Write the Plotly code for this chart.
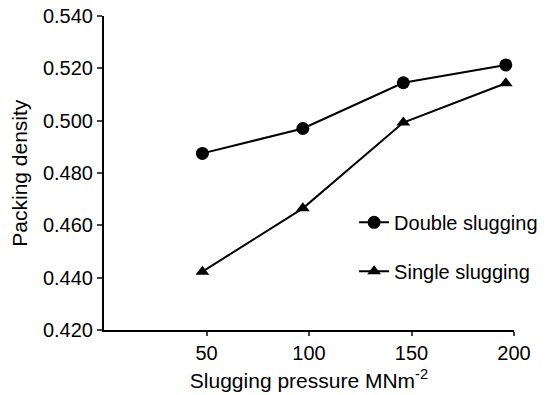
import plotly.graph_objects as go

pressure = [48, 97, 146, 196]
double_slugging = [0.4875, 0.4970, 0.5145, 0.5213]
single_slugging = [0.4423, 0.4665, 0.4993, 0.5143]
x_ticks = [50, 100, 150, 200]
y_ticks = [0.420, 0.440, 0.460, 0.480, 0.500, 0.520, 0.540]
y_tick_text = ["%.3f" % v for v in y_ticks]

font_family = "Liberation Sans, Arial, sans-serif"

fig = go.Figure()
fig.add_trace(go.Scatter(
    x=pressure, y=double_slugging, mode="lines+markers", name="Double slugging",
    legendgroup="d",
    line=dict(color="black", width=2),
    marker=dict(symbol="circle", size=13, color="black"),
))
fig.add_trace(go.Scatter(
    x=pressure, y=single_slugging, mode="lines+markers", name="Single slugging",
    legendgroup="s",
    line=dict(color="black", width=2),
    marker=dict(symbol="triangle-up", size=12, color="black"),
))

# the page body adds an 8px margin, so the figure is sized 8px smaller
fig.update_layout(
    width=543, height=387,
    margin=dict(l=96, r=33, t=8, b=65),
    paper_bgcolor="white", plot_bgcolor="white",
    font=dict(family=font_family, color="black", size=20),
    showlegend=True,
    legend=dict(x=0.61, y=0.405, xanchor="left", yanchor="top",
                bgcolor="rgba(0,0,0,0)", font=dict(size=20),
                tracegroupgap=20, itemwidth=30),
    xaxis=dict(
        range=[0, 200], tickvals=x_ticks, ticks="outside", ticklen=4, tickwidth=2,
        showline=True, linecolor="black", linewidth=2, showgrid=False, zeroline=False,
        automargin=False, ticklabeloverflow="allow",
        title=dict(text="Slugging pressure MNm<sup>-2</sup>", font=dict(size=21), standoff=10),
        tickfont=dict(size=20),
    ),
    yaxis=dict(
        range=[0.420, 0.540], tickvals=y_ticks, ticktext=y_tick_text, ticks="outside",
        ticklen=5, tickwidth=2,
        showline=True, linecolor="black", linewidth=2, showgrid=False, zeroline=False,
        automargin=False, ticklabeloverflow="allow",
        tickfont=dict(size=20),
    ),
    annotations=[dict(
        text="Packing density", xref="paper", yref="paper", x=-0.208, y=0.5,
        xanchor="center", yanchor="middle", textangle=-90, showarrow=False,
        font=dict(size=21),
    )],
)

fig.write_html("out.html")
